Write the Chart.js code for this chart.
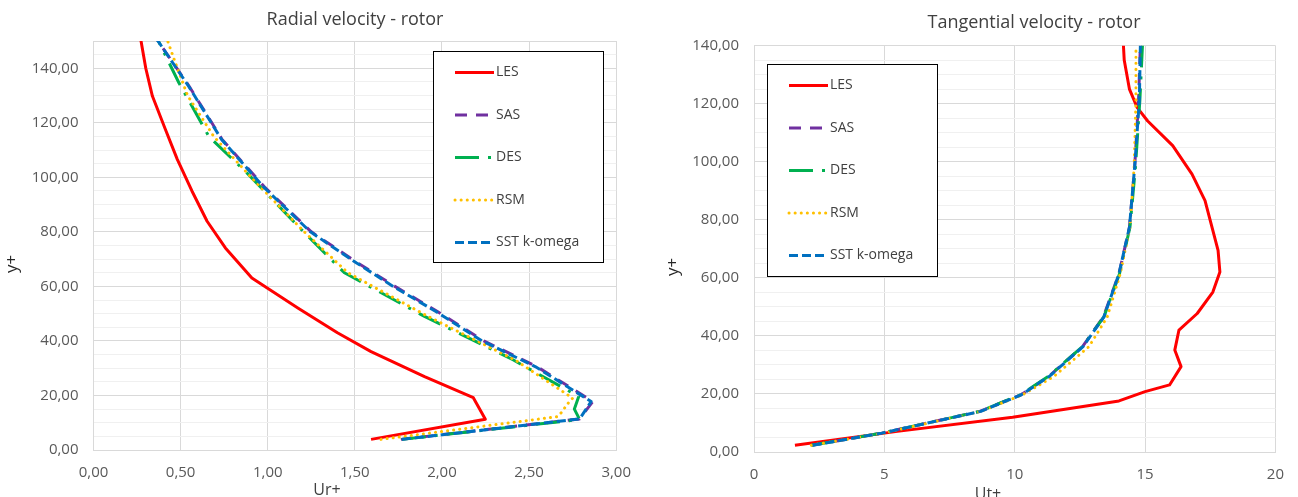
<!DOCTYPE html>
<html>
<head>
<meta charset="utf-8">
<script src="https://cdn.jsdelivr.net/npm/chart.js@4.4.1/dist/chart.umd.min.js"></script>
<style>
  body { margin: 0; background: #fff; }
  #wrap { position: relative; width: 1298px; height: 497px; overflow: hidden; }
  #left { position: absolute; left: 0; top: 0; }
  #right { position: absolute; left: 650px; top: 0; }
</style>
</head>
<body>
<div id="wrap">
  <canvas id="left" width="645" height="497"></canvas>
  <canvas id="right" width="648" height="497"></canvas>
</div>
<script>
const seriesNames = ['LES', 'SAS', 'DES', 'RSM', 'SST k-omega'];

// Radial velocity - rotor (Ur+ against y+)
const radialLesY = [3.9, 11.3, 19.2, 26.9, 36.1, 43, 52, 63.1, 74.1, 83.9, 95, 106.6, 118, 129.8, 140, 150.3];
const radialLesU = [1.593, 2.249, 2.18, 1.90, 1.593, 1.40, 1.175, 0.909, 0.757, 0.652, 0.565, 0.481, 0.41, 0.338, 0.30, 0.272];
const radialSasY = [3.9, 11.4, 17.8, 30.6, 40, 50.8, 60, 68.6, 80, 96.2, 113.9, 133.5, 150.3];
const radialSasU = [1.764, 2.79, 2.866, 2.544, 2.24, 1.974, 1.73, 1.517, 1.25, 0.985, 0.738, 0.548, 0.367];
const radialDesY = [3.9, 11.2, 15, 19.6, 33, 49, 65, 69.8, 80.8, 101, 115, 134.7, 150.3];
const radialDesU = [1.77, 2.79, 2.76, 2.785, 2.41, 1.90, 1.44, 1.365, 1.194, 0.89, 0.662, 0.49, 0.37];
const radialRsmY = [3.9, 12.2, 14, 16.5, 19, 33, 49, 65, 80, 100, 115, 130, 142, 150.3];
const radialRsmU = [1.65, 2.66, 2.69, 2.715, 2.75, 2.42, 1.92, 1.46, 1.21, 0.905, 0.69, 0.54, 0.47, 0.424];
const radialSstY = [3.9, 11.4, 17.8, 30.6, 40, 50.8, 60, 68.6, 80, 96.2, 113.9, 133.5, 150.3];
const radialSstU = [1.77, 2.79, 2.856, 2.535, 2.23, 1.965, 1.72, 1.51, 1.245, 0.98, 0.735, 0.545, 0.367];

// Tangential velocity - rotor (Ut+ against y+)
const tangLesY = [2.3, 7.1, 12, 17.6, 20.8, 23.1, 29.4, 35.1, 42, 47.7, 55.1, 62, 69.4, 86.6, 95.7, 105.5, 114, 118.6, 125, 135, 140];
const tangLesU = [1.57, 5.5, 9.92, 14.0, 15.0, 15.94, 16.38, 16.14, 16.3, 17.0, 17.6, 17.87, 17.8, 17.3, 16.8, 16.06, 15.1, 14.7, 14.4, 14.2, 14.17];
const tangModelY = [2.3, 6.5, 14, 19.7, 26, 36.3, 46.5, 61.4, 77.4, 98, 121, 140];
const tangSasU = [2.2, 4.9, 8.66, 10.24, 11.3, 12.6, 13.4, 14.0, 14.4, 14.6, 14.75, 14.82];
const tangDesU = [2.2, 4.9, 8.66, 10.22, 11.28, 12.6, 13.42, 14.02, 14.42, 14.63, 14.8, 14.9];
const tangRsmU = [2.2, 4.95, 8.7, 10.3, 11.5, 12.85, 13.55, 14.05, 14.42, 14.58, 14.65, 14.65];
const tangSstU = [2.25, 4.9, 8.7, 10.25, 11.32, 12.62, 13.42, 14.0, 14.4, 14.6, 14.78, 14.82];

const styles = [
  { color: '#FF0000', dash: [], cap: 'butt', order: 5 },
  { color: '#7030A0', dash: [12, 9], cap: 'butt', order: 4 },
  { color: '#00B050', dash: [24, 9, 3, 9], cap: 'butt', order: 3 },
  { color: '#FFC000', dash: [0.1, 6], cap: 'round', order: 2 },
  { color: '#0070C0', dash: [9, 4], cap: 'butt', order: 1 }
];

function pairs(us, ys) {
  return us.map((u, i) => ({ x: u, y: ys[i] }));
}

function makeDatasets(list) {
  return list.map((pts, i) => ({
    label: seriesNames[i],
    data: pts,
    borderColor: styles[i].color,
    backgroundColor: styles[i].color,
    borderWidth: 3,
    borderDash: styles[i].dash,
    borderCapStyle: styles[i].cap,
    borderJoinStyle: 'round',
    pointRadius: 0,
    tension: 0,
    fill: false,
    order: styles[i].order
  }));
}

// title, axis titles and the boxed legend, placed like the Excel original
const decor = {
  id: 'decor',
  afterDraw(chart, args, opts) {
    const ctx = chart.ctx;
    ctx.save();
    ctx.textBaseline = 'middle';
    ctx.textAlign = 'center';
    ctx.fillStyle = '#404040';
    ctx.font = '18px "Open Sans"';
    ctx.fillText(opts.title, opts.titleX, opts.titleY);

    ctx.font = '16px "Open Sans"';
    ctx.fillText(opts.xTitle, opts.xTitleX, opts.xTitleY);
    ctx.save();
    ctx.translate(opts.yTitleX, opts.yTitleY);
    ctx.rotate(-Math.PI / 2);
    ctx.fillStyle = '#262626';
    ctx.font = '17px "Open Sans"';
    ctx.fillText('y+', 0, 0);
    ctx.restore();

    const [bx, by, bw, bh] = opts.box;
    ctx.fillStyle = '#fff';
    ctx.fillRect(bx, by, bw, bh);
    ctx.strokeStyle = '#000';
    ctx.lineWidth = 1;
    ctx.strokeRect(bx + 0.5, by + 0.5, bw, bh);

    ctx.font = '14px "Open Sans"';
    ctx.textAlign = 'left';
    chart.data.datasets.forEach((ds, i) => {
      const y = by + 21.5 + i * 42.5;
      ctx.beginPath();
      ctx.strokeStyle = ds.borderColor;
      ctx.lineWidth = ds.borderWidth;
      ctx.lineCap = ds.borderCapStyle;
      ctx.setLineDash(ds.borderDash);
      ctx.moveTo(bx + 22, y);
      ctx.lineTo(bx + 61, y);
      ctx.stroke();
      ctx.setLineDash([]);
      ctx.fillStyle = '#404040';
      ctx.fillText(ds.label, bx + 63, y);
    });
    ctx.restore();
  }
};

function comma(v, d) {
  return v.toFixed(d).replace('.', ',');
}

function makeChart(id, datasets, cfg) {
  return new Chart(document.getElementById(id), {
    type: 'line',
    data: { datasets: datasets },
    plugins: [decor],
    options: {
      responsive: false,
      animation: false,
      layout: { padding: { top: cfg.top, right: cfg.right, left: 0, bottom: 0 } },
      plugins: {
        legend: { display: false },
        tooltip: { enabled: false },
        decor: cfg.decor
      },
      scales: {
        x: {
          type: 'linear',
          min: 0,
          max: cfg.xMax,
          afterFit: s => { s.height = cfg.xHeight; },
          border: { color: '#D9D9D9' },
          grid: { color: '#D9D9D9', drawTicks: false },
          ticks: {
            stepSize: cfg.xStep,
            padding: 14,
            color: '#595959',
            font: { family: 'Open Sans', size: 15 },
            callback: v => cfg.xFmt(v)
          }
        },
        y: {
          type: 'linear',
          min: 0,
          max: cfg.yMax,
          afterFit: s => { s.width = cfg.yWidth; },
          border: { color: '#D9D9D9' },
          grid: {
            drawTicks: false,
            color: c => (c.tick.value % 20 === 0 || c.tick.value === cfg.yMax) ? '#D9D9D9' : '#F0F0F0'
          },
          ticks: {
            stepSize: 5,
            autoSkip: false,
            padding: 15,
            color: '#595959',
            font: { family: 'Open Sans', size: 15 },
            callback: v => v % 20 === 0 ? comma(v, 2) : ''
          }
        }
      }
    }
  });
}

makeChart('left', makeDatasets([
  pairs(radialLesU, radialLesY),
  pairs(radialSasU, radialSasY),
  pairs(radialDesU, radialDesY),
  pairs(radialRsmU, radialRsmY),
  pairs(radialSstU, radialSstY)
]), {
  decor: {
    title: 'Radial velocity - rotor', titleX: 355, titleY: 20,
    xTitle: 'Ur+', xTitleX: 327, xTitleY: 490,
    yTitleX: 12, yTitleY: 264,
    box: [433, 51, 170, 211]
  },
  top: 41, right: 27, xHeight: 47, yWidth: 93.5,
  xMax: 3, xStep: 0.5, xFmt: v => comma(v, 2), yMax: 150
});

makeChart('right', makeDatasets([
  pairs(tangLesU, tangLesY),
  pairs(tangSasU, tangModelY),
  pairs(tangDesU, tangModelY),
  pairs(tangRsmU, tangModelY),
  pairs(tangSstU, tangModelY)
]), {
  decor: {
    title: 'Tangential velocity - rotor', titleX: 384, titleY: 23,
    xTitle: 'Ut+', xTitleX: 338, xTitleY: 494,
    yTitleX: 23, yTitleY: 267,
    box: [117, 64, 170, 212]
  },
  top: 45.5, right: 20, xHeight: 45, yWidth: 104,
  xMax: 20, xStep: 5, xFmt: v => String(v), yMax: 140
});
</script>
</body>
</html>
